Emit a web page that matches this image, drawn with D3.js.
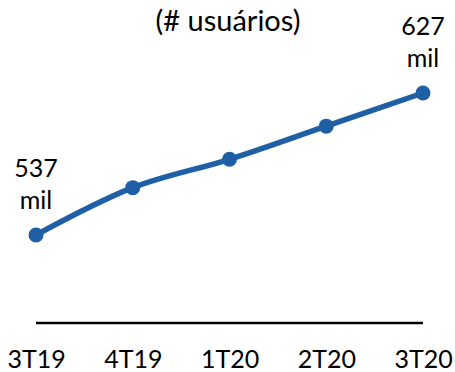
<!DOCTYPE html>
<html>
<head>
<meta charset="utf-8">
<script src="https://cdn.jsdelivr.net/npm/d3@7"></script>
<style>
  html, body { margin: 0; padding: 0; background: #fff; }
  svg { display: block; }
  text { font-family: Lato, "Open Sans", sans-serif; fill: #000; }
</style>
</head>
<body>
<svg id="chart" width="455" height="372"></svg>
<script>
// Active users per quarter, in thousands
const quarters = ["3T19", "4T19", "1T20", "2T20", "3T20"];
const users = [537, 567, 585, 606, 627];
const labelledIdx = [0, 4];
const subtitle = "(# usuários)";

const FONT = "Lato, 'Open Sans', sans-serif";
const FS = 25;

const svg = d3.select("#chart");

const x = d3.scalePoint().domain(quarters).range([36, 423]);
const y = d3.scaleLinear().domain([537, 627]).range([235, 93]);

// subtitle
svg.append("text")
  .attr("x", 228).attr("y", 31)
  .attr("text-anchor", "middle")
  .attr("font-size", 29)
  .text(subtitle);

// baseline axis
const axisY = 323;
const axis = svg.append("g")
  .attr("transform", `translate(0,${axisY})`)
  .call(d3.axisBottom(x).tickSize(0).tickPadding(27));
axis.select(".domain")
  .attr("d", `M${x(quarters[0])},0H${x(quarters[quarters.length - 1])}`)
  .attr("stroke", "#000").attr("stroke-width", 2.5);
axis.selectAll(".tick text")
  .attr("font-size", FS)
  .attr("font-family", FONT)
  .attr("fill", "#000");

const data = quarters.map((q, i) => ({ q, v: users[i] }));

// line
const line = d3.line()
  .x(d => x(d.q))
  .y(d => y(d.v))
  .curve(d3.curveCatmullRom.alpha(0.5));

svg.append("path")
  .datum(data)
  .attr("d", line)
  .attr("fill", "none")
  .attr("stroke", "#1f5fa6")
  .attr("stroke-width", 5.5)
  .attr("stroke-linecap", "round");

// markers
svg.selectAll("circle.pt")
  .data(data)
  .join("circle")
  .attr("class", "pt")
  .attr("cx", d => x(d.q))
  .attr("cy", d => y(d.v))
  .attr("r", 7.5)
  .attr("fill", "#1f5fa6");

// value labels on first and last points
labelledIdx.forEach(i => {
  const d = data[i];
  const g = svg.append("text")
    .attr("text-anchor", "middle")
    .attr("font-size", FS);
  g.append("tspan").attr("x", x(d.q)).attr("y", y(d.v) - 58).text(d.v);
  g.append("tspan").attr("x", x(d.q)).attr("y", y(d.v) - 26).text("mil");
});
</script>
</body>
</html>
